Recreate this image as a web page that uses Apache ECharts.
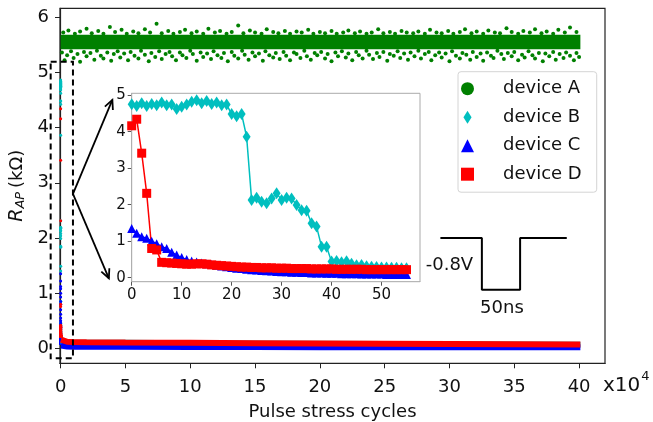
<!DOCTYPE html>
<html><head><meta charset="utf-8">
<script src="https://cdn.jsdelivr.net/npm/echarts@6/dist/echarts.min.js"></script>
<style>html,body{margin:0;padding:0;background:#fff}#c{width:653px;height:422px}</style>
</head><body><div id="c"></div>
<script>
// ---------- data ----------
const insetX = [0,1,2,3,4,5,6,7,8,9,10,11,12,13,14,15,16,17,18,19,20,21,22,23,24,25,26,27,28,29,30,31,32,33,34,35,36,37,38,39,40,41,42,43,44,45,46,47,48,49,50,51,52,53,54,55];
const devB = [4.75,4.70,4.78,4.70,4.76,4.72,4.80,4.72,4.74,4.62,4.68,4.74,4.82,4.86,4.78,4.84,4.76,4.80,4.72,4.74,4.48,4.42,4.48,3.86,2.13,2.19,2.08,2.04,2.17,2.31,2.13,2.19,2.17,1.99,1.85,1.83,1.49,1.40,0.85,0.85,0.44,0.46,0.42,0.45,0.38,0.34,0.35,0.31,0.30,0.29,0.28,0.28,0.27,0.27,0.26,0.26];
const devC = [1.35,1.22,1.12,1.08,1.00,0.93,0.85,0.80,0.70,0.62,0.55,0.50,0.46,0.43,0.40,0.38,0.36,0.34,0.32,0.30,0.28,0.26,0.25,0.23,0.22,0.21,0.20,0.19,0.18,0.17,0.16,0.16,0.15,0.15,0.14,0.14,0.13,0.13,0.13,0.12,0.12,0.12,0.11,0.11,0.11,0.11,0.10,0.10,0.10,0.10,0.10,0.09,0.09,0.09,0.09,0.09];
const devD = [4.16,4.34,3.41,2.31,0.80,0.76,0.42,0.41,0.40,0.39,0.38,0.37,0.37,0.38,0.38,0.37,0.35,0.34,0.33,0.32,0.31,0.30,0.29,0.29,0.28,0.28,0.27,0.27,0.27,0.26,0.26,0.26,0.25,0.25,0.25,0.25,0.24,0.24,0.24,0.24,0.24,0.23,0.23,0.23,0.23,0.23,0.23,0.22,0.22,0.22,0.22,0.22,0.22,0.22,0.22,0.22];

const longX = [0.03,0.5,1,2,5,10,15,20,25,30,35,40.1];
const longB = [0.14,0.11,0.105,0.10,0.10,0.095,0.09,0.085,0.08,0.075,0.07,0.065];
const longC = [0.05,0.035,0.03,0.03,0.03,0.025,0.025,0.02,0.02,0.02,0.02,0.02];
const longD = [0.16,0.12,0.115,0.11,0.105,0.10,0.095,0.09,0.085,0.08,0.075,0.07];

const greenCore = [5.42, 5.68];
const greenSpan = [0, 40.1];
const greenLow = [[0.1,5.36],[0.3,5.22],[0.5,5.31],[0.8,5.38],[1.0,5.26],[1.3,5.33],[1.5,5.19],[1.8,5.37],[2.0,5.29],[2.3,5.35],[2.6,5.23],[2.8,5.39],[3.1,5.30],[3.3,5.25],[3.6,5.36],[3.9,5.21],[4.1,5.33],[4.4,5.38],[4.6,5.27],[4.9,5.34],[5.2,5.22],[5.4,5.37],[5.7,5.30],[6.0,5.25],[6.2,5.39],[6.5,5.32],[6.8,5.20],[7.0,5.35],[7.3,5.28],[7.6,5.38],[7.8,5.24],[8.1,5.33],[8.4,5.37],[8.6,5.29],[8.9,5.22],[9.2,5.36],[9.4,5.31],[9.7,5.26],[10.0,5.39],[10.2,5.33],[10.5,5.21],[10.8,5.36],[11.0,5.28],[11.3,5.34],[11.6,5.24],[11.8,5.38],[12.1,5.31],[12.4,5.26],[12.6,5.35],[12.9,5.20],[13.2,5.37],[13.4,5.30],[13.7,5.25],[14.0,5.39],[14.2,5.32],[14.5,5.23],[14.8,5.36],[15.0,5.29],[15.3,5.34],[15.6,5.21],[15.8,5.38],[16.1,5.31],[16.4,5.27],[16.6,5.35],[16.9,5.24],[17.2,5.37],[17.4,5.30],[17.7,5.22],[18.0,5.36],[18.2,5.33],[18.5,5.26],[18.8,5.39],[19.0,5.29],[19.3,5.23],[19.6,5.35],[19.8,5.31],[20.1,5.37],[20.4,5.25],[20.6,5.33],[20.9,5.20],[21.2,5.36],[21.4,5.29],[21.7,5.38],[22.0,5.27],[22.2,5.34],[22.5,5.22],[22.8,5.37],[23.0,5.31],[23.3,5.25],[23.6,5.39],[23.8,5.32],[24.1,5.24],[24.4,5.35],[24.6,5.28],[24.9,5.37],[25.2,5.21],[25.4,5.33],[25.7,5.30],[26.0,5.38],[26.2,5.26],[26.5,5.34],[26.8,5.23],[27.0,5.36],[27.3,5.29],[27.6,5.39],[27.8,5.25],[28.1,5.33],[28.4,5.37],[28.6,5.22],[28.9,5.31],[29.2,5.36],[29.4,5.27],[29.7,5.34],[30.0,5.20],[30.2,5.38],[30.5,5.30],[30.8,5.25],[31.0,5.35],[31.3,5.32],[31.6,5.23],[31.8,5.37],[32.1,5.28],[32.4,5.34],[32.6,5.21],[32.9,5.36],[33.2,5.30],[33.4,5.26],[33.7,5.39],[34.0,5.33],[34.2,5.24],[34.5,5.35],[34.8,5.29],[35.0,5.37],[35.3,5.22],[35.6,5.32],[35.8,5.27],[36.1,5.38],[36.4,5.31],[36.6,5.25],[36.9,5.35],[37.2,5.20],[37.4,5.34],[37.7,5.29],[38.0,5.37],[38.2,5.23],[38.5,5.33],[38.8,5.26],[39.0,5.36],[39.3,5.30],[39.6,5.22],[39.8,5.35],[40.0,5.28]];
const greenHigh = [[0.2,5.72],[0.6,5.76],[1.1,5.70],[1.5,5.74],[2.0,5.79],[2.4,5.71],[2.9,5.75],[3.3,5.70],[3.8,5.82],[4.2,5.73],[4.7,5.77],[5.1,5.70],[5.6,5.74],[6.0,5.71],[6.5,5.78],[6.9,5.72],[7.4,5.88],[7.8,5.71],[8.3,5.75],[8.7,5.70],[9.2,5.73],[9.6,5.77],[10.1,5.71],[10.5,5.74],[11.0,5.70],[11.4,5.79],[11.9,5.72],[12.3,5.75],[12.8,5.70],[13.2,5.73],[13.7,5.85],[14.1,5.71],[14.6,5.76],[15.0,5.72],[15.5,5.70],[15.9,5.78],[16.4,5.73],[16.8,5.71],[17.3,5.75],[17.7,5.70],[18.2,5.74],[18.6,5.72],[19.1,5.77],[19.5,5.70],[20.0,5.73],[20.4,5.71],[20.9,5.75],[21.3,5.70],[21.8,5.72],[22.2,5.76],[22.7,5.71],[23.1,5.74],[23.6,5.70],[24.0,5.72],[24.5,5.78],[24.9,5.71],[25.4,5.73],[25.8,5.70],[26.3,5.75],[26.7,5.72],[27.2,5.71],[27.6,5.74],[28.1,5.70],[28.5,5.77],[29.0,5.72],[29.4,5.71],[29.9,5.75],[30.3,5.70],[30.8,5.73],[31.2,5.78],[31.7,5.71],[32.1,5.74],[32.6,5.70],[33.0,5.76],[33.5,5.72],[33.9,5.71],[34.4,5.80],[34.8,5.73],[35.3,5.70],[35.7,5.75],[36.2,5.72],[36.6,5.78],[37.1,5.71],[37.5,5.74],[38.0,5.70],[38.4,5.77],[38.9,5.72],[39.3,5.81],[39.8,5.73]];

const xTicks = [0,5,10,15,20,25,30,35,40];
const yTicks = [0,1,2,3,4,5,6];
const insetXTicks = [0,10,20,30,40,50];
const insetYTicks = [0,1,2,3,4,5];

const pulseX = [29.3,32.5,32.5,35.45,35.45,39.05];
const pulseY = [2.0,2.0,1.06,1.06,2.0,2.0];
const zoomBoxX = [-0.77,0.95];
const zoomBoxY = [-0.18,5.19];

// ---------- styling ----------
const FONT = 'DejaVu Sans';
const cA = '#008000', cB = '#00bfbf', cC = '#0000ff', cD = '#ff0000';
const pairs = (xs, ys, f) => xs.map((x, i) => [f ? f(x) : x, ys[i]]);
const toMain = x => x / 1e4;

const mainAxisStyle = {
  axisLine: {show: true, onZero: false, lineStyle: {color: '#222', width: 1.2}},
  splitLine: {show: false}
};
const insetAxisStyle = {
  axisLine: {show: true, onZero: false, lineStyle: {color: '#aaa', width: 1}},
  splitLine: {show: false}
};

const option = {
  animation: false,
  backgroundColor: '#fff',
  grid: [
    {left: 60, top: 8.3, width: 545, height: 355, show: true, containLabel: false, outerBoundsMode: 'none',
      borderColor: '#222', borderWidth: 1.2, backgroundColor: 'transparent'},
    {left: 131.7, top: 93.3, width: 288.3, height: 188.4, show: true, containLabel: false, outerBoundsMode: 'none',
      borderColor: '#aaa', borderWidth: 1, backgroundColor: '#fff', z: 3}
  ],
  xAxis: [
    Object.assign({type: 'value', gridIndex: 0, min: -0.05, max: 42,
      axisTick: {show: true, customValues: xTicks, length: 5, lineStyle: {color: '#222'}},
      axisLabel: {customValues: xTicks, fontSize: 18, color: '#111', fontFamily: FONT, margin: 15},
      name: 'Pulse stress cycles', nameLocation: 'middle', nameGap: 40,
      nameTextStyle: {fontSize: 18, color: '#111', fontFamily: FONT}
    }, mainAxisStyle),
    Object.assign({type: 'value', gridIndex: 1, min: 0, max: 57.7,
      axisTick: {show: true, customValues: insetXTicks, length: 4, lineStyle: {color: '#555'}},
      axisLabel: {customValues: insetXTicks, fontSize: 15, color: '#111', fontFamily: FONT, margin: 6}
    }, insetAxisStyle)
  ],
  yAxis: [
    Object.assign({type: 'value', gridIndex: 0, min: -0.27, max: 6.16,
      axisTick: {show: true, customValues: yTicks, length: 5, lineStyle: {color: '#222'}},
      axisLabel: {customValues: yTicks, fontSize: 18, color: '#111', fontFamily: FONT, margin: 11},
      name: '{i|R}{s|AP} {n|(kΩ)}', nameLocation: 'middle', nameGap: 32, nameRotate: 90,
      nameTextStyle: {fontFamily: FONT, color: '#111', rich: {
        i: {fontSize: 19, fontStyle: 'italic', fontFamily: FONT, color: '#111'},
        s: {fontSize: 13, fontStyle: 'italic', fontFamily: FONT, color: '#111', padding: [6, 0, 0, 0]},
        n: {fontSize: 18, fontFamily: FONT, color: '#111'}
      }}
    }, mainAxisStyle),
    Object.assign({type: 'value', gridIndex: 1, min: -0.11, max: 5.05,
      axisTick: {show: true, customValues: insetYTicks, length: 4, lineStyle: {color: '#555'}},
      axisLabel: {customValues: insetYTicks, fontSize: 15, color: '#111', fontFamily: FONT, margin: 6}
    }, insetAxisStyle)
  ],
  legend: {
    left: 458, top: 71.7, orient: 'vertical', selectedMode: false,
    backgroundColor: 'rgba(255,255,255,0.85)', borderColor: '#d4d4d4', borderWidth: 1, borderRadius: 3,
    padding: [7, 15, 8, 3], itemWidth: 13, itemHeight: 13, itemGap: 8.5,
    textStyle: {fontSize: 18, fontFamily: FONT, color: '#111', lineHeight: 20, padding: [0, 0, 0, 24]},
    data: [
      {name: 'device A', icon: 'circle', itemStyle: {color: cA, opacity: 1}},
      {name: 'device B', icon: 'path://M5,0 L10,8 L5,16 L0,8 Z', itemStyle: {color: cB, opacity: 1}},
      {name: 'device C', icon: 'triangle', itemStyle: {color: cC, opacity: 1}},
      {name: 'device D', icon: 'rect', itemStyle: {color: cD, opacity: 1}}
    ]
  },
  series: [
    // device A: dense band + scattered points
    {name: 'device A', type: 'scatter', xAxisIndex: 0, yAxisIndex: 0, symbolSize: 4,
      itemStyle: {color: cA, opacity: 1}, data: greenLow.concat(greenHigh), silent: true,
      markArea: {silent: true, itemStyle: {color: cA, opacity: 1},
        data: [[{coord: [greenSpan[0], greenCore[0]]}, {coord: [greenSpan[1], greenCore[1]]}]]}
    },
    // early cycles on main scale (x10^4)
    {name: 'device B', type: 'scatter', xAxisIndex: 0, yAxisIndex: 0, symbolSize: 3, itemStyle: {color: cB, opacity: 1}, data: pairs(insetX, devB, toMain), silent: true},
    {name: 'device C', type: 'scatter', xAxisIndex: 0, yAxisIndex: 0, symbolSize: 3, itemStyle: {color: cC, opacity: 1}, data: pairs(insetX, devC, toMain), silent: true},
    {name: 'device D', type: 'scatter', xAxisIndex: 0, yAxisIndex: 0, symbolSize: 3, itemStyle: {color: cD, opacity: 1}, data: pairs(insetX, devD, toMain), silent: true},
    // long-term bands
    {name: 'device B', type: 'line', xAxisIndex: 0, yAxisIndex: 0, showSymbol: false, symbol: 'none', lineStyle: {color: cB, width: 6}, data: pairs(longX, longB), silent: true},
    {name: 'device C', type: 'line', xAxisIndex: 0, yAxisIndex: 0, showSymbol: false, symbol: 'none', lineStyle: {color: cC, width: 6}, data: pairs(longX, longC), silent: true},
    {name: 'device D', type: 'line', xAxisIndex: 0, yAxisIndex: 0, showSymbol: false, symbol: 'none', lineStyle: {color: cD, width: 6}, data: pairs(longX, longD), silent: true},
    // pulse waveform
    {name: 'pulse', type: 'line', xAxisIndex: 0, yAxisIndex: 0, symbol: 'none', silent: true,
      lineStyle: {color: '#000', width: 2}, data: pairs(pulseX, pulseY)},
    // inset
    {name: 'device B', type: 'line', xAxisIndex: 1, yAxisIndex: 1, z: 4, symbol: 'diamond', symbolSize: [8, 12],
      lineStyle: {color: cB, width: 1.5}, itemStyle: {color: cB}, data: pairs(insetX, devB), silent: true},
    {name: 'device C', type: 'line', xAxisIndex: 1, yAxisIndex: 1, z: 4, symbol: 'triangle', symbolSize: 9,
      lineStyle: {color: cC, width: 1.5}, itemStyle: {color: cC}, data: pairs(insetX, devC), silent: true},
    {name: 'device D', type: 'line', xAxisIndex: 1, yAxisIndex: 1, z: 4, symbol: 'rect', symbolSize: 9,
      lineStyle: {color: cD, width: 1.5}, itemStyle: {color: cD}, data: pairs(insetX, devD), silent: true}
  ]
};

const chart = echarts.init(document.getElementById('c'));
chart.setOption(option);

// ---------- annotations positioned through the main scales ----------
const px = (x, y) => chart.convertToPixel({gridIndex: 0}, [x, y]);
function arrow(from, to) {
  const dx = to[0] - from[0], dy = to[1] - from[1];
  const L = Math.hypot(dx, dy), ux = dx / L, uy = dy / L, h = 10, a = 0.45;
  const rot = (ang) => [ux * Math.cos(ang) - uy * Math.sin(ang), ux * Math.sin(ang) + uy * Math.cos(ang)];
  const r1 = rot(a), r2 = rot(-a);
  return [
    {type: 'line', shape: {x1: from[0], y1: from[1], x2: to[0], y2: to[1]}, style: {stroke: '#000', lineWidth: 1.8}, z: 20},
    {type: 'polyline', shape: {points: [[to[0] - h * r1[0], to[1] - h * r1[1]], to, [to[0] - h * r2[0], to[1] - h * r2[1]]]}, style: {stroke: '#000', lineWidth: 1.8, fill: null}, z: 20}
  ];
}
const apex = px(0.95, 2.8);
const tipTop = px(3.99, 4.5);
const tipBot = px(3.72, 1.27);
const vLab = px(30.0, 1.51);
const nsLab = px(34.05, 0.73);
const boxTL = px(zoomBoxX[0], zoomBoxY[1]);
const boxBR = px(zoomBoxX[1], zoomBoxY[0]);
chart.setOption({
  graphic: [].concat(arrow(apex, tipTop), arrow(apex, tipBot), [
    {type: 'rect', z: 20, shape: {x: boxTL[0], y: boxTL[1], width: boxBR[0] - boxTL[0], height: boxBR[1] - boxTL[1]},
      style: {stroke: '#000', lineWidth: 2, lineDash: [6, 4], fill: null}},
    {type: 'text', x: vLab[0], y: vLab[1], z: 20, style: {text: '-0.8V', fontSize: 18, fontFamily: FONT, fill: '#111', align: 'center', verticalAlign: 'middle'}},
    {type: 'text', x: nsLab[0], y: nsLab[1], z: 20, style: {text: '50ns', fontSize: 18, fontFamily: FONT, fill: '#111', align: 'center', verticalAlign: 'middle'}},
    {type: 'text', left: 603, top: 370, z: 20, style: {text: '{a|x10}{b|4}', fontFamily: FONT, rich: {
      a: {fontSize: 20, fontFamily: FONT, fill: '#111', padding: [6, 0, 0, 0]},
      b: {fontSize: 13, fontFamily: FONT, fill: '#111', verticalAlign: 'top', padding: [0, 0, 10, 1]}
    }}}
  ])
});
</script>
</body></html>
